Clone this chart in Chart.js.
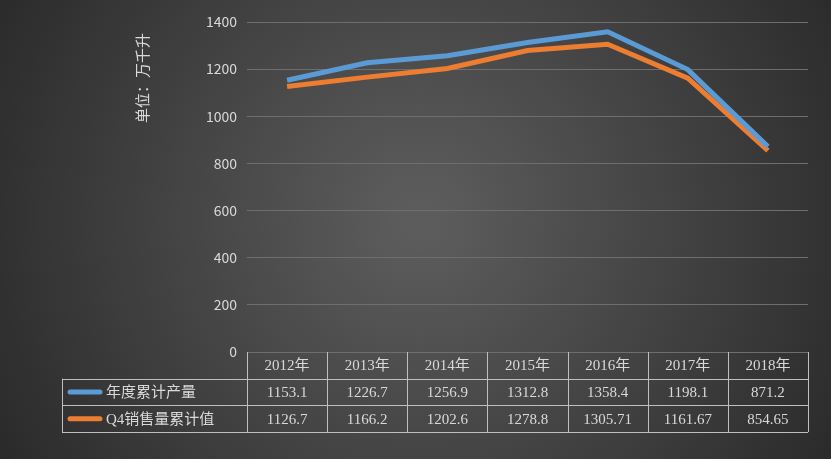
<!DOCTYPE html>
<html><head><meta charset="utf-8">
<script src="https://cdn.jsdelivr.net/npm/chart.js@4/dist/chart.umd.min.js"></script>
<style>html,body{margin:0;padding:0;background:#333;}#wrap{width:831px;height:459px;}</style>
</head><body><div id="wrap"><canvas id="c"></canvas></div>
<script>
const years = ['2012年', '2013年', '2014年', '2015年', '2016年', '2017年', '2018年'];
const production = [1153.1, 1226.7, 1256.9, 1312.8, 1358.4, 1198.1, 871.2];
const q4Sales = [1126.7, 1166.2, 1202.6, 1278.8, 1305.71, 1161.67, 854.65];
const productionLabels = ['1153.1', '1226.7', '1256.9', '1312.8', '1358.4', '1198.1', '871.2'];
const salesLabels = ['1126.7', '1166.2', '1202.6', '1278.8', '1305.71', '1161.67', '854.65'];
const seriesNames = ['年度累计产量', 'Q4销售量累计值'];
const colors = ['#5B9BD5', '#ED7D31'];
const font = '"Noto Sans CJK SC", "Liberation Sans", sans-serif';
const tableFont = '"Liberation Serif", "Noto Sans CJK SC", serif';
const textColor = '#d9d9d9';

const bgPlugin = {
	id: 'bg',
	beforeDraw( chart ) {
		const { ctx, width, height } = chart;
		const g = ctx.createRadialGradient( 420, 220, 20, 420, 220, 520 );
		g.addColorStop( 0, '#5c5c5c' );
		g.addColorStop( 1, '#262626' );
		ctx.save();
		ctx.fillStyle = g;
		ctx.fillRect( 0, 0, width, height );
		ctx.restore();
	},
};

const tablePlugin = {
	id: 'table',
	afterDraw( chart ) {
		const { ctx, chartArea } = chart;
		const x = chart.scales.x;
		const left = chartArea.left, right = chartArea.right;
		const top = chartArea.bottom;
		const rowH = 26.7;
		const legendLeft = 62;
		const colW = ( right - left ) / years.length;
		ctx.save();
		ctx.strokeStyle = '#bfbfbf';
		ctx.lineWidth = 1;
		ctx.beginPath();
		for ( let i = 0; i <= years.length; i++ ) {
			const vx = Math.round( left + i * colW ) + 0.5;
			ctx.moveTo( vx, top );
			ctx.lineTo( vx, top + rowH * 3 );
		}
		ctx.moveTo( legendLeft + 0.5, top + rowH );
		ctx.lineTo( legendLeft + 0.5, top + rowH * 3 );
		for ( let r = 1; r <= 3; r++ ) {
			const hy = Math.round( top + rowH * r ) + 0.5;
			ctx.moveTo( legendLeft, hy );
			ctx.lineTo( right, hy );
		}
		ctx.stroke();

		ctx.fillStyle = textColor;
		ctx.font = '15px ' + tableFont;
		ctx.textAlign = 'center';
		ctx.textBaseline = 'middle';
		const rows = [ years, productionLabels, salesLabels ];
		rows.forEach( ( row, r ) => {
			row.forEach( ( t, i ) => {
				ctx.fillText( t, x.getPixelForValue( i ), top + rowH * ( r + 0.5 ) + 1 );
			} );
		} );
		ctx.textAlign = 'left';
		seriesNames.forEach( ( name, s ) => {
			const cy = top + rowH * ( s + 1.5 );
			ctx.strokeStyle = colors[ s ];
			ctx.lineWidth = 5;
			ctx.lineCap = 'round';
			ctx.beginPath();
			ctx.moveTo( 70, cy );
			ctx.lineTo( 100, cy );
			ctx.stroke();
			ctx.fillText( name, 106, cy + 1 );
		} );

		// axis title
		ctx.translate( 142, 78 );
		ctx.rotate( -Math.PI / 2 );
		ctx.textAlign = 'center';
		ctx.font = '15px ' + font;
		ctx.fillText( '单位：万千升', 0, 0 );
		ctx.restore();
	},
};

new Chart( document.getElementById( 'c' ), {
	type: 'line',
	data: {
		labels: years,
		datasets: [
			{ label: seriesNames[ 0 ], data: production, borderColor: colors[ 0 ], borderWidth: 5, pointRadius: 0, tension: 0 },
			{ label: seriesNames[ 1 ], data: q4Sales, borderColor: colors[ 1 ], borderWidth: 5, pointRadius: 0, tension: 0 },
		],
	},
	plugins: [ bgPlugin, tablePlugin ],
	options: {
		responsive: true,
		maintainAspectRatio: false,
		animation: false,
		layout: { padding: { left: 0, right: 23, top: 22, bottom: 107 } },
		plugins: { legend: { display: false }, tooltip: { enabled: false } },
		scales: {
			x: {
				display: false,
				offset: true,
			},
			y: {
				min: 0,
				max: 1400,
				afterFit( scale ) { scale.width = 247; },
				ticks: { stepSize: 200, color: textColor, font: { size: 14, family: font }, padding: 10, callback: ( v ) => String( v ) },
				grid: { color: '#6e6e6e', drawTicks: false },
				border: { display: false },
			},
		},
	},
} );
</script>
</body></html>
